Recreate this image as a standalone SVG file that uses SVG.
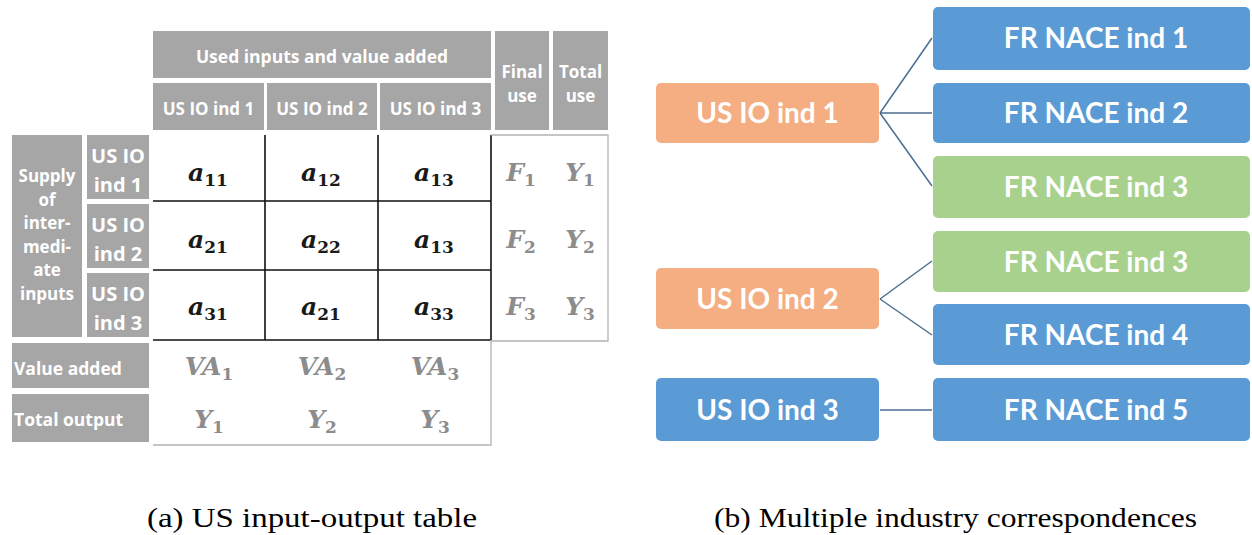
<svg xmlns="http://www.w3.org/2000/svg" width="1252" height="535" viewBox="0 0 1252 535">
<style>
.hd{fill:#a6a6a6}
.ht{fill:#ffffff;font-family:"Open Sans",Lato,sans-serif;font-weight:bold;text-anchor:middle}
.hl{fill:#ffffff;font-family:"Open Sans",Lato,sans-serif;font-weight:bold;text-anchor:start}
.m{font-family:"DejaVu Serif",serif;font-style:italic;font-weight:bold;text-anchor:middle;font-size:25px}
.mb{fill:#1a1a1a}
.mg{fill:#8c8c8c}
.sub{font-size:17px;font-style:normal}
.grid{stroke:#111;stroke-width:1.6;fill:none}
.lg{stroke:#b3b3b3;stroke-width:1.3;fill:none}
.box{rx:5;ry:5}
.or{fill:#f4ae82}
.bl{fill:#5b9bd5}
.gr{fill:#a9d18e}
.bt{fill:#ffffff;font-family:Lato,"Open Sans",sans-serif;font-weight:bold;text-anchor:middle;font-size:28px}
.conn{stroke:#4d6e8f;stroke-width:1.5;fill:none}
.cap{font-family:"Liberation Serif",serif;font-size:28px;fill:#000;text-anchor:start}
</style>
<rect width="1252" height="535" fill="#ffffff"/>

<g id="table">
  <g id="hdr-used">
    <rect class="hd" x="153" y="31" width="338" height="47"/>
    <text class="ht" x="322" y="63" font-size="17.5">Used inputs and value added</text>
  </g>
  <g id="hdr-col1"><rect class="hd" x="153" y="83" width="111" height="47"/><text class="ht" x="208.5" y="115" font-size="17">US IO ind 1</text></g>
  <g id="hdr-col2"><rect class="hd" x="267" y="83" width="110" height="47"/><text class="ht" x="322" y="115" font-size="17">US IO ind 2</text></g>
  <g id="hdr-col3"><rect class="hd" x="380" y="83" width="111" height="47"/><text class="ht" x="435.5" y="115" font-size="17">US IO ind 3</text></g>
  <g id="hdr-final"><rect class="hd" x="495" y="31" width="54" height="99"/><text class="ht" x="522" y="78" font-size="17">Final</text><text class="ht" x="522" y="101.5" font-size="17">use</text></g>
  <g id="hdr-total"><rect class="hd" x="553" y="31" width="55" height="99"/><text class="ht" x="580.5" y="78" font-size="17">Total</text><text class="ht" x="580.5" y="101.5" font-size="17">use</text></g>

  <g id="hdr-supply">
    <rect class="hd" x="12" y="135" width="70" height="202"/>
    <text class="ht" x="47" y="182" font-size="17">Supply</text>
    <text class="ht" x="47" y="205.5" font-size="17">of</text>
    <text class="ht" x="47" y="229" font-size="17">inter-</text>
    <text class="ht" x="47" y="252.5" font-size="17">medi-</text>
    <text class="ht" x="47" y="276" font-size="17">ate</text>
    <text class="ht" x="47" y="299.5" font-size="17">inputs</text>
  </g>
  <g id="hdr-row1"><rect class="hd" x="87" y="135" width="62" height="64"/><text class="ht" x="118" y="163" font-size="20">US IO</text><text class="ht" x="118" y="192" font-size="20">ind 1</text></g>
  <g id="hdr-row2"><rect class="hd" x="87" y="204" width="62" height="64"/><text class="ht" x="118" y="232" font-size="20">US IO</text><text class="ht" x="118" y="261" font-size="20">ind 2</text></g>
  <g id="hdr-row3"><rect class="hd" x="87" y="273" width="62" height="64"/><text class="ht" x="118" y="301" font-size="20">US IO</text><text class="ht" x="118" y="330" font-size="20">ind 3</text></g>
  <g id="hdr-va"><rect class="hd" x="12" y="343" width="137" height="45"/><text class="hl" x="14" y="375" font-size="17.5">Value added</text></g>
  <g id="hdr-to"><rect class="hd" x="12" y="394" width="137" height="48"/><text class="hl" x="14" y="426" font-size="17.5">Total output</text></g>

  <g id="grid-lines">
    <path class="grid" d="M153 201H491M153 270H491M153 340H491M265 135V340M378 135V340M491 135V340"/>
    <path class="lg" d="M491 135H608V341H491M491 340V445H153"/>
  </g>

  <g id="cells">
    <text class="m mb" x="208" y="181">a<tspan class="sub" dy="5">11</tspan></text>
    <text class="m mb" x="321" y="181">a<tspan class="sub" dy="5">12</tspan></text>
    <text class="m mb" x="434" y="181">a<tspan class="sub" dy="5">13</tspan></text>
    <text class="m mb" x="208" y="248">a<tspan class="sub" dy="5">21</tspan></text>
    <text class="m mb" x="321" y="248">a<tspan class="sub" dy="5">22</tspan></text>
    <text class="m mb" x="434" y="248">a<tspan class="sub" dy="5">13</tspan></text>
    <text class="m mb" x="208" y="315">a<tspan class="sub" dy="5">31</tspan></text>
    <text class="m mb" x="321" y="315">a<tspan class="sub" dy="5">21</tspan></text>
    <text class="m mb" x="434" y="315">a<tspan class="sub" dy="5">33</tspan></text>
    <text class="m mg" x="521" y="181">F<tspan class="sub" dy="5">1</tspan></text>
    <text class="m mg" x="521" y="248">F<tspan class="sub" dy="5">2</tspan></text>
    <text class="m mg" x="521" y="315">F<tspan class="sub" dy="5">3</tspan></text>
    <text class="m mg" x="580" y="181">Y<tspan class="sub" dy="5">1</tspan></text>
    <text class="m mg" x="580" y="248">Y<tspan class="sub" dy="5">2</tspan></text>
    <text class="m mg" x="580" y="315">Y<tspan class="sub" dy="5">3</tspan></text>
    <text class="m mg" x="209" y="375">VA<tspan class="sub" dy="5">1</tspan></text>
    <text class="m mg" x="322" y="375">VA<tspan class="sub" dy="5">2</tspan></text>
    <text class="m mg" x="435" y="375">VA<tspan class="sub" dy="5">3</tspan></text>
    <text class="m mg" x="209" y="428">Y<tspan class="sub" dy="5">1</tspan></text>
    <text class="m mg" x="322" y="428">Y<tspan class="sub" dy="5">2</tspan></text>
    <text class="m mg" x="435" y="428">Y<tspan class="sub" dy="5">3</tspan></text>
  </g>
</g>

<g id="connectors">
  <path class="conn" d="M880 113L932 38M880 113H932M880 113L932 186"/>
  <path class="conn" d="M880 299L932 261M880 299L932 335"/>
  <path class="conn" d="M880 410H932"/>
</g>

<g id="us1"><rect class="box or" x="656" y="83" width="223" height="60"/><text class="bt" x="767.5" y="123">US IO ind 1</text></g>
<g id="us2"><rect class="box or" x="656" y="268" width="223" height="61"/><text class="bt" x="767.5" y="308.5">US IO ind 2</text></g>
<g id="us3"><rect class="box bl" x="656" y="378" width="223" height="63"/><text class="bt" x="767.5" y="419.5">US IO ind 3</text></g>

<g id="fr1"><rect class="box bl" x="933" y="7" width="317" height="63"/><text class="bt" x="1096" y="48">FR NACE ind 1</text></g>
<g id="fr2"><rect class="box bl" x="933" y="83" width="317" height="60"/><text class="bt" x="1096" y="123">FR NACE ind 2</text></g>
<g id="fr3a"><rect class="box gr" x="933" y="156" width="317" height="62"/><text class="bt" x="1096" y="197">FR NACE ind 3</text></g>
<g id="fr3b"><rect class="box gr" x="933" y="231" width="317" height="61"/><text class="bt" x="1096" y="271.5">FR NACE ind 3</text></g>
<g id="fr4"><rect class="box bl" x="933" y="304" width="317" height="61"/><text class="bt" x="1096" y="344.5">FR NACE ind 4</text></g>
<g id="fr5"><rect class="box bl" x="933" y="378" width="317" height="63"/><text class="bt" x="1096" y="419.5">FR NACE ind 5</text></g>

<g id="captions">
  <text class="cap" x="147" y="527" textLength="330" lengthAdjust="spacingAndGlyphs">(a) US input-output table</text>
  <text class="cap" x="714" y="527" textLength="483" lengthAdjust="spacingAndGlyphs">(b) Multiple industry correspondences</text>
</g>
</svg>
